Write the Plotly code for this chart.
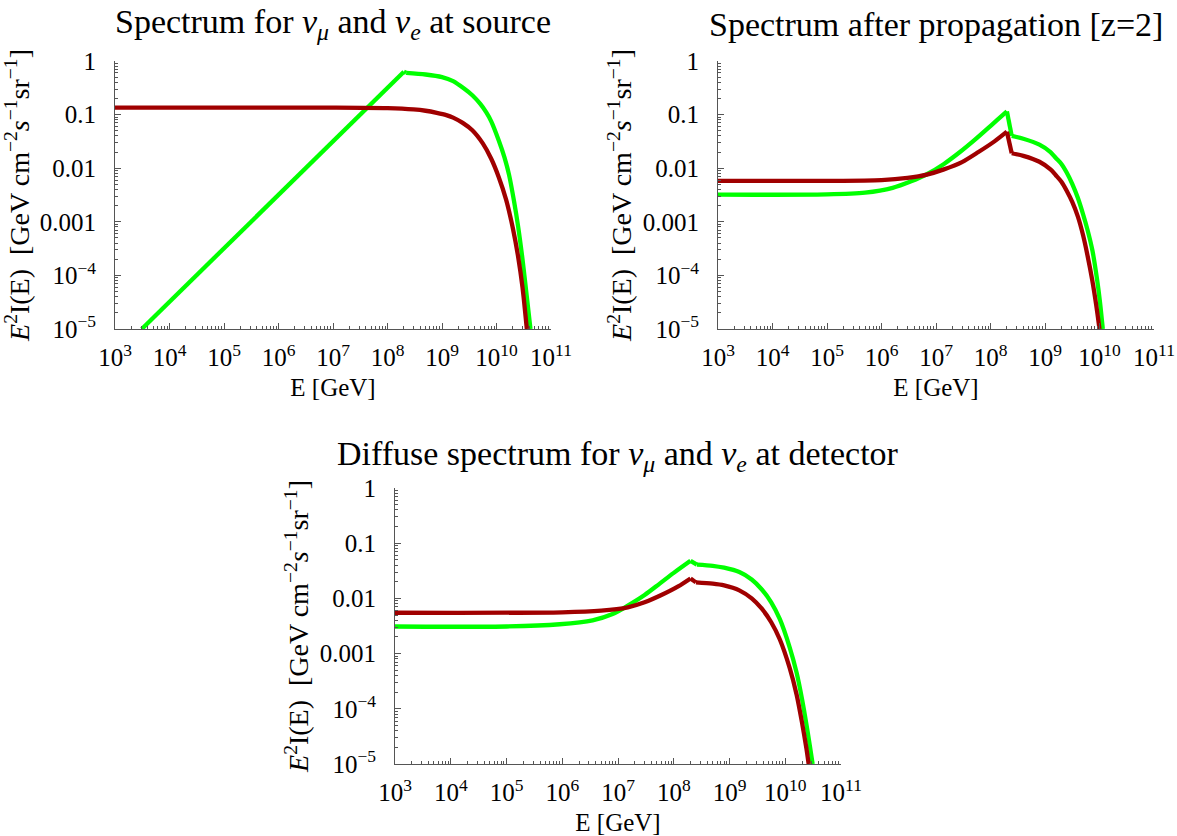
import plotly.graph_objects as go

W, H = 1177, 836

# ---------------- data ----------------
# Panel 1: spectrum at source
src_green_E = [3.1e3, 2.0e8, 2.2e8, 5e8, 1e9, 1.6e9, 2.5e9, 3.6e9, 5e9, 6.5e9, 8e9,
               1.1e10, 1.4e10, 1.7e10, 2.1e10, 2.5e10, 3e10, 3.6e10, 4.2e10]
src_green_Y = [1e-5, 0.63, 0.60, 0.56, 0.50, 0.42, 0.31, 0.23, 0.16, 0.11, 0.075,
               0.033, 0.016, 7.5e-3, 2.4e-3, 8e-4, 2e-4, 4e-5, 1e-5]
src_red_E = [1e3, 1e5, 1e7, 1e8, 3e8, 5e8, 8e8, 1.2e9, 1.6e9, 2.4e9, 3.6e9, 5.6e9,
             8e9, 1.1e10, 1.5e10, 2e10, 2.5e10, 3e10, 3.6e10]
src_red_Y = [0.135, 0.135, 0.135, 0.132, 0.125, 0.118, 0.108, 0.098, 0.088, 0.070,
             0.051, 0.029, 0.015, 6.8e-3, 2.6e-3, 7.5e-4, 2.2e-4, 6e-5, 1e-5]

# Panel 2: after propagation (z=2)
prop_green_E = [1e3, 1e5, 5e5, 1.6e6, 3.5e6, 6.8e6, 1.4e7, 2.75e7, 5e7, 8.5e7, 1.3e8,
                2.0e8, 2.45e8, 4e8, 7.9e8, 1.26e9, 1.58e9, 2e9, 2.5e9, 3.16e9, 4e9,
                5e9, 6e9, 7.4e9, 9.1e9, 1.02e10, 1.15e10]
prop_green_Y = [3.2e-3, 3.25e-3, 3.5e-3, 4.3e-3, 5.7e-3, 7.7e-3, 0.012, 0.020, 0.033,
                0.053, 0.078, 0.115, 0.040, 0.0355, 0.0275, 0.020, 0.0155, 0.012,
                8.3e-3, 5.1e-3, 2.8e-3, 1.38e-3, 7.2e-4, 2.95e-4, 7.9e-5, 3.2e-5, 1e-5]
prop_red_E = [1e3, 1e5, 1e6, 3e6, 6.8e6, 1.4e7, 3e7, 6e7, 1.2e8, 2.0e8, 2.45e8, 4e8,
              7.9e8, 1.26e9, 1.58e9, 2e9, 2.5e9, 3.16e9, 4e9, 5e9, 6e9, 7.4e9, 8.7e9,
              1e10]
prop_red_Y = [5.8e-3, 5.8e-3, 6.0e-3, 6.6e-3, 7.6e-3, 9.5e-3, 0.013, 0.020, 0.032,
              0.048, 0.019, 0.017, 0.0132, 9.5e-3, 7.4e-3, 5.6e-3, 3.8e-3, 2.35e-3,
              1.26e-3, 5.6e-4, 2.4e-4, 7.9e-5, 2.8e-5, 1e-5]

# Panel 3: diffuse spectrum at detector
det_green_E = [1e3, 1e5, 9e5, 3.5e6, 8e6, 1.5e7, 3e7, 5.6e7, 1e8, 2.0e8, 2.6e8, 5e8,
               8e8, 1.5e9, 2.5e9, 3.8e9, 5.6e9, 8e9, 1.2e10, 1.6e10, 2e10, 2.4e10,
               2.75e10, 3.1e10]
det_green_Y = [3.1e-3, 3.1e-3, 3.4e-3, 4.0e-3, 5.2e-3, 7.4e-3, 0.0115, 0.0185, 0.029,
               0.048, 0.041, 0.039, 0.036, 0.030, 0.022, 0.0145, 8.5e-3, 4.2e-3,
               1.3e-3, 4.5e-4, 1.5e-4, 5.2e-5, 2.2e-5, 1e-5]
det_red_E = [1e3, 1e6, 5e6, 1.5e7, 3e7, 6e7, 1.2e8, 2.0e8, 2.5e8, 5e8, 8e8, 1.5e9,
             2.5e9, 3.8e9, 5.6e9, 8e9, 1.2e10, 1.6e10, 2e10, 2.4e10, 2.63e10]
det_red_Y = [5.5e-3, 5.6e-3, 6.0e-3, 6.9e-3, 8.5e-3, 0.0115, 0.0165, 0.023, 0.0195,
             0.0185, 0.0172, 0.014, 0.010, 6.5e-3, 3.7e-3, 1.8e-3, 5.5e-4, 1.8e-4,
             5.6e-5, 1.9e-5, 1e-5]

x_tick_vals = [1e3, 1e4, 1e5, 1e6, 1e7, 1e8, 1e9, 1e10, 1e11]
x_tick_text = ["10<sup>3</sup>", "10<sup>4</sup>", "10<sup>5</sup>", "10<sup>6</sup>",
               "10<sup>7</sup>", "10<sup>8</sup>", "10<sup>9</sup>", "10<sup>10</sup>",
               "10<sup>11</sup>"]
y_tick_vals = [1, 0.1, 0.01, 0.001, 1e-4, 1e-5]
y_tick_text = ["1", "0.1", "0.01", "0.001", "10<sup>\u22124</sup>", "10<sup>\u22125</sup>"]

titles = [
    "Spectrum for <i>\u03bd</i><sub><i>\u03bc</i></sub> and <i>\u03bd</i><sub><i>e</i></sub> at source",
    "Spectrum after propagation [z=2]",
    "Diffuse spectrum for <i>\u03bd</i><sub><i>\u03bc</i></sub> and <i>\u03bd</i><sub><i>e</i></sub> at detector",
]
x_title = "E [GeV]"
y_title = ("<i>E</i><sup>2</sup>I(E)\u00a0\u00a0[GeV cm<sup>\u22122</sup>"
           "<i>s</i><sup>\u22121</sup>sr<sup>\u22121</sup>]")

GREEN = "#00ff00"
RED = "#a00000"
FONT = "Liberation Serif"
AXIS_COLOR = "#555555"

# ---------------- layout geometry (pixels) ----------------
panels = [
    dict(x0=115, x1=551, y0=61, y1=329, ty=24),
    dict(x0=718, x1=1154, y0=61, y1=329, ty=24),
    dict(x0=395, x1=841, y0=488, y1=764, ty=456),
]

minor_x = [m * 10 ** k for k in range(3, 11) for m in range(2, 10)]
minor_y = [m * 10.0 ** k for k in range(-5, 0) for m in range(2, 10)]

fig = go.Figure()
series = [
    (src_green_E, src_green_Y, src_red_E, src_red_Y),
    (prop_green_E, prop_green_Y, prop_red_E, prop_red_Y),
    (det_green_E, det_green_Y, det_red_E, det_red_Y),
]


def add_curve(E, Y, color, xa, ya):
    """Smooth sections drawn as splines, the sharp drop after the peak kept straight."""
    k = max(range(len(Y)), key=lambda i: Y[i])
    pieces = []
    if k == 0:
        pieces.append((E, Y, "spline"))
    else:
        pieces.append((E[:k + 1], Y[:k + 1], "spline"))
        pieces.append((E[k:k + 2], Y[k:k + 2], "linear"))
        pieces.append((E[k + 1:], Y[k + 1:], "spline"))
    for ex, ey, shape in pieces:
        fig.add_trace(go.Scatter(
            x=ex, y=ey, mode="lines", xaxis=xa, yaxis=ya, hoverinfo="skip",
            line=dict(color=color, width=4.3, shape=shape, smoothing=0.8)))


layout = dict(
    width=W, height=H,
    margin=dict(l=0, r=0, t=0, b=0),
    paper_bgcolor="white", plot_bgcolor="white",
    showlegend=False,
    font=dict(family=FONT, color="black", size=25),
    annotations=[],
)

for i, (p, s) in enumerate(zip(panels, series)):
    sfx = "" if i == 0 else str(i + 1)
    xa, ya = "x" + sfx, "y" + sfx
    gE, gY, rE, rY = s
    add_curve(gE, gY, GREEN, xa, ya)
    add_curve(rE, rY, RED, xa, ya)
    common = dict(
        type="log", showgrid=False, zeroline=False, showline=True,
        linecolor=AXIS_COLOR, linewidth=1, mirror=False,
        ticks="inside", ticklen=6, tickwidth=1, tickcolor=AXIS_COLOR,
        tickfont=dict(family=FONT, size=25, color="black"),
        automargin=False, tickmode="array",
    )
    layout["xaxis" + sfx] = dict(
        common, domain=[p["x0"] / W, p["x1"] / W], anchor=ya,
        range=[3, 11], tickvals=x_tick_vals, ticktext=x_tick_text,
        ticklabelstandoff=6,
        minor=dict(ticks="inside", ticklen=3, tickwidth=1, tickcolor=AXIS_COLOR,
                   tickmode="array", tickvals=minor_x),
        title=dict(text=x_title, font=dict(family=FONT, size=25), standoff=8),
    )
    layout["yaxis" + sfx] = dict(
        common, domain=[1 - p["y1"] / H, 1 - p["y0"] / H], anchor=xa,
        range=[-5, 0], tickvals=y_tick_vals, ticktext=y_tick_text,
        ticklabelstandoff=13,
        minor=dict(ticks="inside", ticklen=3, tickwidth=1, tickcolor=AXIS_COLOR,
                   tickmode="array", tickvals=minor_y),
        title=dict(text=y_title, font=dict(family=FONT, size=28), standoff=2),
    )
    layout["annotations"].append(dict(
        text=titles[i], xref="paper", yref="paper",
        x=(p["x0"] + p["x1"]) / 2 / W, y=1 - p["ty"] / H,
        xanchor="center", yanchor="middle", showarrow=False,
        font=dict(family=FONT, size=34, color="black"),
    ))

fig.update_layout(**layout)
fig.write_html("out.html")
